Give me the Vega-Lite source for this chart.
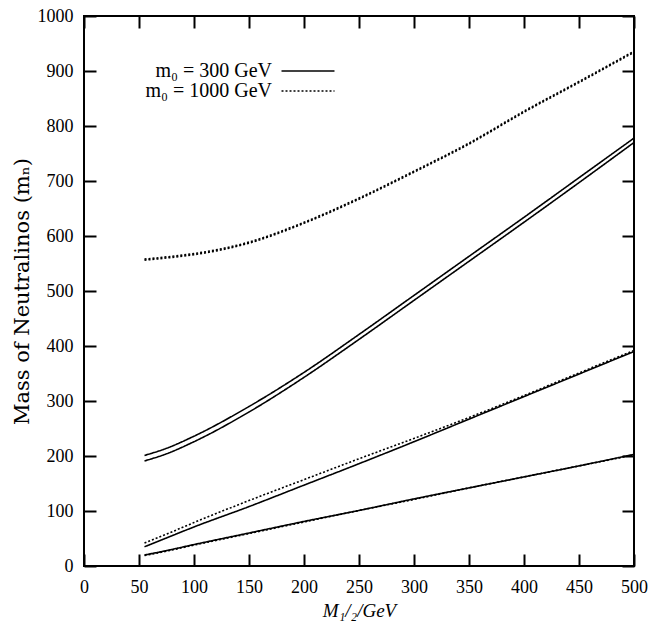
{
  "$schema": "https://vega.github.io/schema/vega-lite/v6.json",
  "width": 550,
  "height": 550,
  "autosize": "none",
  "padding": {"left": 84, "top": 16, "right": 16, "bottom": 64},
  "background": "white",
  "config": {
    "font": "Liberation Serif",
    "view": {"stroke": "black", "strokeWidth": 2},
    "axis": {
      "domain": false,
      "grid": false,
      "labelFlush": false,
      "tickColor": "black",
      "tickWidth": 2,
      "tickSize": -12,
      "labelFont": "Liberation Serif",
      "labelFontSize": 18,
      "labelColor": "black",
      "titleFont": "Liberation Serif",
      "titleFontSize": 18,
      "titleFontWeight": "normal",
      "titleColor": "black"
    }
  },
  "data": {
    "values": [
      {"M": 55, "mass": 20, "curve": "300-N1", "m0": "300"},
      {"M": 75, "mass": 28, "curve": "300-N1", "m0": "300"},
      {"M": 100, "mass": 39, "curve": "300-N1", "m0": "300"},
      {"M": 150, "mass": 60, "curve": "300-N1", "m0": "300"},
      {"M": 200, "mass": 81, "curve": "300-N1", "m0": "300"},
      {"M": 250, "mass": 101, "curve": "300-N1", "m0": "300"},
      {"M": 300, "mass": 122, "curve": "300-N1", "m0": "300"},
      {"M": 350, "mass": 142, "curve": "300-N1", "m0": "300"},
      {"M": 400, "mass": 162, "curve": "300-N1", "m0": "300"},
      {"M": 450, "mass": 182, "curve": "300-N1", "m0": "300"},
      {"M": 500, "mass": 203, "curve": "300-N1", "m0": "300"},

      {"M": 55, "mass": 19, "curve": "1000-N1", "m0": "1000"},
      {"M": 75, "mass": 27, "curve": "1000-N1", "m0": "1000"},
      {"M": 100, "mass": 38, "curve": "1000-N1", "m0": "1000"},
      {"M": 150, "mass": 59, "curve": "1000-N1", "m0": "1000"},
      {"M": 200, "mass": 80, "curve": "1000-N1", "m0": "1000"},
      {"M": 250, "mass": 101, "curve": "1000-N1", "m0": "1000"},
      {"M": 300, "mass": 121, "curve": "1000-N1", "m0": "1000"},
      {"M": 350, "mass": 142, "curve": "1000-N1", "m0": "1000"},
      {"M": 400, "mass": 162, "curve": "1000-N1", "m0": "1000"},
      {"M": 450, "mass": 182, "curve": "1000-N1", "m0": "1000"},
      {"M": 500, "mass": 202, "curve": "1000-N1", "m0": "1000"},

      {"M": 55, "mass": 35, "curve": "300-N2", "m0": "300"},
      {"M": 75, "mass": 51, "curve": "300-N2", "m0": "300"},
      {"M": 100, "mass": 71, "curve": "300-N2", "m0": "300"},
      {"M": 150, "mass": 108, "curve": "300-N2", "m0": "300"},
      {"M": 200, "mass": 147, "curve": "300-N2", "m0": "300"},
      {"M": 250, "mass": 186, "curve": "300-N2", "m0": "300"},
      {"M": 300, "mass": 226, "curve": "300-N2", "m0": "300"},
      {"M": 350, "mass": 267, "curve": "300-N2", "m0": "300"},
      {"M": 400, "mass": 308, "curve": "300-N2", "m0": "300"},
      {"M": 450, "mass": 349, "curve": "300-N2", "m0": "300"},
      {"M": 500, "mass": 390, "curve": "300-N2", "m0": "300"},

      {"M": 55, "mass": 42, "curve": "1000-N2", "m0": "1000"},
      {"M": 75, "mass": 58, "curve": "1000-N2", "m0": "1000"},
      {"M": 100, "mass": 79, "curve": "1000-N2", "m0": "1000"},
      {"M": 150, "mass": 119, "curve": "1000-N2", "m0": "1000"},
      {"M": 200, "mass": 157, "curve": "1000-N2", "m0": "1000"},
      {"M": 250, "mass": 195, "curve": "1000-N2", "m0": "1000"},
      {"M": 300, "mass": 232, "curve": "1000-N2", "m0": "1000"},
      {"M": 350, "mass": 270, "curve": "1000-N2", "m0": "1000"},
      {"M": 400, "mass": 310, "curve": "1000-N2", "m0": "1000"},
      {"M": 450, "mass": 351, "curve": "1000-N2", "m0": "1000"},
      {"M": 500, "mass": 392, "curve": "1000-N2", "m0": "1000"},

      {"M": 55, "mass": 191, "curve": "300-N3", "m0": "300"},
      {"M": 75, "mass": 204, "curve": "300-N3", "m0": "300"},
      {"M": 100, "mass": 226, "curve": "300-N3", "m0": "300"},
      {"M": 150, "mass": 280, "curve": "300-N3", "m0": "300"},
      {"M": 200, "mass": 343, "curve": "300-N3", "m0": "300"},
      {"M": 250, "mass": 412, "curve": "300-N3", "m0": "300"},
      {"M": 300, "mass": 483, "curve": "300-N3", "m0": "300"},
      {"M": 350, "mass": 554, "curve": "300-N3", "m0": "300"},
      {"M": 400, "mass": 625, "curve": "300-N3", "m0": "300"},
      {"M": 450, "mass": 697, "curve": "300-N3", "m0": "300"},
      {"M": 500, "mass": 770, "curve": "300-N3", "m0": "300"},

      {"M": 55, "mass": 201, "curve": "300-N4", "m0": "300"},
      {"M": 75, "mass": 214, "curve": "300-N4", "m0": "300"},
      {"M": 100, "mass": 236, "curve": "300-N4", "m0": "300"},
      {"M": 150, "mass": 290, "curve": "300-N4", "m0": "300"},
      {"M": 200, "mass": 352, "curve": "300-N4", "m0": "300"},
      {"M": 250, "mass": 421, "curve": "300-N4", "m0": "300"},
      {"M": 300, "mass": 492, "curve": "300-N4", "m0": "300"},
      {"M": 350, "mass": 563, "curve": "300-N4", "m0": "300"},
      {"M": 400, "mass": 634, "curve": "300-N4", "m0": "300"},
      {"M": 450, "mass": 706, "curve": "300-N4", "m0": "300"},
      {"M": 500, "mass": 778, "curve": "300-N4", "m0": "300"},

      {"M": 55, "mass": 556, "curve": "1000-N3", "m0": "1000"},
      {"M": 75, "mass": 560, "curve": "1000-N3", "m0": "1000"},
      {"M": 100, "mass": 566, "curve": "1000-N3", "m0": "1000"},
      {"M": 150, "mass": 587, "curve": "1000-N3", "m0": "1000"},
      {"M": 200, "mass": 623, "curve": "1000-N3", "m0": "1000"},
      {"M": 250, "mass": 667, "curve": "1000-N3", "m0": "1000"},
      {"M": 300, "mass": 716, "curve": "1000-N3", "m0": "1000"},
      {"M": 350, "mass": 767, "curve": "1000-N3", "m0": "1000"},
      {"M": 400, "mass": 825, "curve": "1000-N3", "m0": "1000"},
      {"M": 450, "mass": 879, "curve": "1000-N3", "m0": "1000"},
      {"M": 500, "mass": 934, "curve": "1000-N3", "m0": "1000"},

      {"M": 55, "mass": 558, "curve": "1000-N4", "m0": "1000"},
      {"M": 75, "mass": 562, "curve": "1000-N4", "m0": "1000"},
      {"M": 100, "mass": 568, "curve": "1000-N4", "m0": "1000"},
      {"M": 150, "mass": 589, "curve": "1000-N4", "m0": "1000"},
      {"M": 200, "mass": 625, "curve": "1000-N4", "m0": "1000"},
      {"M": 250, "mass": 669, "curve": "1000-N4", "m0": "1000"},
      {"M": 300, "mass": 718, "curve": "1000-N4", "m0": "1000"},
      {"M": 350, "mass": 769, "curve": "1000-N4", "m0": "1000"},
      {"M": 400, "mass": 827, "curve": "1000-N4", "m0": "1000"},
      {"M": 450, "mass": 881, "curve": "1000-N4", "m0": "1000"},
      {"M": 500, "mass": 936, "curve": "1000-N4", "m0": "1000"}
    ]
  },
  "layer": [
    {
      "mark": {"type": "line", "interpolate": "monotone", "color": "black", "strokeWidth": 1.6, "clip": true},
      "encoding": {
        "x": {
          "field": "M", "type": "quantitative",
          "scale": {"domain": [0, 500], "nice": false},
          "axis": {"orient": "bottom", "values": [0, 50, 100, 150, 200, 250, 300, 350, 400, 450, 500], "labelPadding": 24, "title": "M₁/₂/GeV", "titleFontStyle": "italic", "titleFontSize": 19, "titlePadding": 5}
        },
        "y": {
          "field": "mass", "type": "quantitative",
          "scale": {"domain": [0, 1000], "nice": false},
          "axis": {"orient": "left", "format": "d", "values": [0, 100, 200, 300, 400, 500, 600, 700, 800, 900, 1000], "labelPadding": 23, "title": "Mass of Neutralinos (mₙ)", "titleFont": "DejaVu Serif", "titleFontSize": 21, "titlePadding": 5}
        },
        "detail": {"field": "curve", "type": "nominal"},
        "strokeDash": {
          "field": "m0", "type": "nominal",
          "scale": {"domain": ["300", "1000"], "range": [[1, 0], [2, 2]]},
          "legend": {
            "orient": "none",
            "legendX": 39,
            "legendY": 45,
            "title": null,
            "padding": 0,
            "symbolType": "M-3,0H3",
            "symbolSize": 312,
            "symbolStrokeColor": "black",
            "symbolStrokeWidth": 1.6,
            "labelFont": "Liberation Serif",
            "labelFontSize": 20,
            "labelColor": "black",
            "rowPadding": 0,
            "labelExpr": "datum.value == '300' ? 'm₀ =  300 GeV' : 'm₀ = 1000 GeV'",
            "labelLimit": 300,
            "encode": {
              "labels": {"update": {"align": {"value": "right"}, "x": {"value": 149}}},
              "symbols": {"update": {"x": {"value": 185}}}
            }
          }
        }
      }
    },
    {
      "mark": {"type": "line", "strokeOpacity": 0},
      "encoding": {
        "x": {
          "field": "M", "type": "quantitative",
          "axis": {"orient": "top", "values": [0, 50, 100, 150, 200, 250, 300, 350, 400, 450, 500], "labels": false, "title": null}
        },
        "y": {
          "field": "mass", "type": "quantitative",
          "axis": {"orient": "right", "values": [0, 100, 200, 300, 400, 500, 600, 700, 800, 900, 1000], "labels": false, "title": null}
        },
        "detail": {"field": "curve", "type": "nominal"}
      }
    }
  ],
  "resolve": {"axis": {"x": "independent", "y": "independent"}}
}
